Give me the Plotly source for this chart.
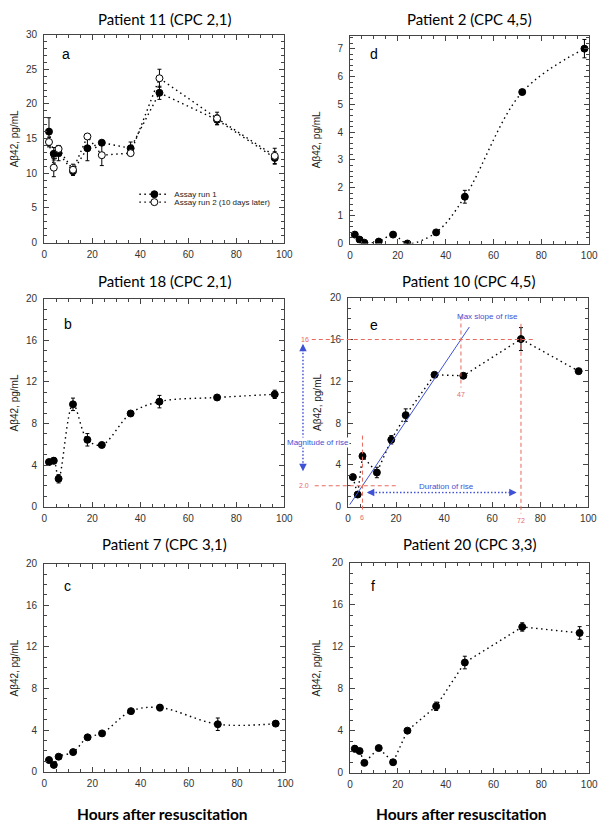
import plotly.graph_objects as go

W, H = 609, 829

# ---------------- data ----------------
hours = [2, 4, 6, 12, 18, 24, 36, 48, 72, 96]
hours_d = [2, 4, 6, 12, 18, 24, 36, 48, 72, 98]

# Panel a - Patient 11
a_run1 = [16.0, 12.8, 12.9, 10.3, 13.6, 14.4, 13.6, 21.6, 17.7, 12.2]
a_run1_err = [2.0, 0.9, 1.1, 0.6, 1.8, 0.2, 0.9, 0.95, 0.7, 0.9]
a_run2 = [14.5, 10.8, 13.5, 10.5, 15.3, 12.6, 12.9, 23.7, 17.9, 12.5]
a_run2_err = [0.7, 1.3, 0.5, 0.8, 0.2, 1.5, 0.3, 1.3, 0.9, 1.1]

# Panel d - Patient 2
d_vals = [0.32, 0.14, 0.03, 0.07, 0.32, 0.0, 0.40, 1.68, 5.44, 7.0]
d_err = [0.02, 0.02, 0.02, 0.02, 0.02, 0.02, 0.03, 0.23, 0.03, 0.33]

# Panel b - Patient 18
b_vals = [4.29, 4.42, 2.68, 9.84, 6.43, 5.93, 8.96, 10.1, 10.5, 10.8]
b_err = [0.1, 0.3, 0.4, 0.6, 0.6, 0.15, 0.2, 0.6, 0.1, 0.4]

# Panel e - Patient 10
e_vals = [2.83, 1.16, 4.84, 3.27, 6.4, 8.76, 12.62, 12.53, 16.04, 12.97]
e_err = [0.1, 0.1, 0.3, 0.5, 0.4, 0.6, 0.2, 0.1, 1.1, 0.1]
e_fit_x = [0.7, 50.5]
e_fit_pts = [(6, 2.0), (47, 16.0)]

# Panel c - Patient 7
c_vals = [1.13, 0.66, 1.45, 1.89, 3.31, 3.69, 5.83, 6.17, 4.57, 4.63]
c_err = [0.1, 0.1, 0.1, 0.1, 0.15, 0.1, 0.1, 0.3, 0.6, 0.1]

# Panel f - Patient 20
f_vals = [2.29, 2.07, 0.94, 2.35, 1.0, 4.01, 6.33, 10.5, 13.89, 13.32]
f_err = [0.3, 0.1, 0.1, 0.15, 0.1, 0.1, 0.4, 0.6, 0.4, 0.6]

titles = ["Patient 11 (CPC 2,1)", "Patient 2 (CPC 4,5)", "Patient 18 (CPC 2,1)",
          "Patient 10 (CPC 4,5)", "Patient 7 (CPC 3,1)", "Patient 20 (CPC 3,3)"]
letters = ["a", "d", "b", "e", "c", "f"]
letter_pos = [(9, 27.2), (10, 6.82), (9.8, 17.6), (10.6, 17.4), (9.5, 17.9), (9.8, 17.8)]
y_ranges = [[0, 30], [0, 7.47], [0, 20], [0, 20], [0, 20], [0, 20]]
y_dticks = [5, 1, 4, 4, 4, 4]
y_minor = [1, 0.2, 1, 1, 1, 1]

# pixel boxes of each plot area (left, right, top, bottom) and title centre heights
boxes = [(42, 287, 29, 240), (354, 598, 30, 241),
         (42, 287, 297, 508), (352, 597, 296, 508),
         (42, 288, 566, 777), (354, 598, 565, 778)]
title_y = [13, 13, 279, 279, 546, 546]


def xdom(b):
    return [b[0] / W, b[1] / W]


def ydom(b):
    return [(H - b[3]) / H, (H - b[2]) / H]


DOT = "1.5px,3.5px"
fig = go.Figure()


def add_series(i, x, y, err, shape, name=None, open_marker=False, showlegend=False, legend="legend"):
    xa = "x" if i == 0 else f"x{i+1}"
    ya = "y" if i == 0 else f"y{i+1}"
    fig.add_trace(go.Scatter(
        x=x, y=y, xaxis=xa, yaxis=ya, mode="lines+markers",
        name=name, showlegend=showlegend, legend=legend,
        line=dict(color="black", width=1.4, dash=DOT, shape=shape),
        marker=dict(size=7, color="white" if open_marker else "black",
                    line=dict(color="black", width=1)),
        error_y=dict(type="data", array=err, color="black", thickness=1, width=2),
    ))


add_series(0, hours, a_run1, a_run1_err, "linear", "Assay run 1", False, True, "legend")
add_series(0, hours, a_run2, a_run2_err, "linear", "Assay run 2 (10 days later)", True, True, "legend2")
add_series(1, hours_d, d_vals, d_err, "spline")
add_series(2, hours, b_vals, b_err, "spline")
add_series(3, hours, e_vals, e_err, "linear")
add_series(4, hours, c_vals, c_err, "spline")
add_series(5, hours, f_vals, f_err, "linear")

# regression line (max slope of rise) in panel e
(px0, py0), (px1, py1) = e_fit_pts
slope = (py1 - py0) / (px1 - px0)
e_fit_y = [py0 + (xv - px0) * slope for xv in e_fit_x]
BLUE = "#3f51d4"
RED = "#e8695e"
fig.add_trace(go.Scatter(x=e_fit_x, y=e_fit_y, xaxis="x4", yaxis="y4", mode="lines",
                         line=dict(color=BLUE, width=1), showlegend=False))

axis_common = dict(showline=True, linecolor="#444", linewidth=1, mirror="ticks",
                   ticks="inside", ticklen=5, tickwidth=1, tickcolor="#444",
                   showgrid=False, zeroline=False,
                   tickfont=dict(family="Liberation Sans", size=10, color="#333"))

layout = dict(width=W, height=H, margin=dict(l=0, r=0, t=0, b=0),
              paper_bgcolor="white", plot_bgcolor="white",
              font=dict(family="Liberation Sans", color="black"))
annotations = []
for i, b in enumerate(boxes):
    sx = "" if i == 0 else str(i + 1)
    layout[f"xaxis{sx}"] = dict(axis_common, domain=xdom(b), range=[0, 100], dtick=20,
                                anchor=f"y{sx}", ticklabelstandoff=2,
                                minor=dict(ticks="inside", ticklen=3, dtick=5, tickcolor="#444"))
    layout[f"yaxis{sx}"] = dict(axis_common, domain=ydom(b), range=y_ranges[i],
                                dtick=y_dticks[i], anchor=f"x{sx}", ticklabelstandoff=4,
                                minor=dict(ticks="inside", ticklen=3, dtick=y_minor[i], tickcolor="#444"))
    # panel title
    annotations.append(dict(text=titles[i], xref="paper", yref="paper",
                            x=(b[0] + b[1]) / 2 / W, y=(H - title_y[i]) / H,
                            showarrow=False, xanchor="center", yanchor="middle",
                            font=dict(family="Lato", size=15, color="black")))
    # panel letter
    lx, ly = letter_pos[i]
    annotations.append(dict(text=letters[i], xref=f"x{sx}", yref=f"y{sx}", x=lx, y=ly,
                            showarrow=False, xanchor="center",
                            font=dict(family="Liberation Sans", size=14)))
    # y axis title
    ytx = 12 if b[0] < 100 else 320
    annotations.append(dict(text="Aβ42, pg/mL", xref="paper", yref="paper",
                            x=ytx / W, y=(H - (b[2] + b[3]) / 2) / H, textangle=-90,
                            showarrow=False, xanchor="center", yanchor="middle",
                            font=dict(family="Liberation Sans", size=10, color="#222")))

for cx in (163, 468):
    annotations.append(dict(text="<b>Hours after resuscitation</b>", xref="paper", yref="paper",
                            x=cx / W, y=(H - 820) / H, showarrow=False,
                            xanchor="center", yanchor="middle",
                            font=dict(family="Lato", size=15.5, color="black")))

# ---------- panel e annotations ----------
eb = boxes[3]


def ex(v):
    return (eb[0] + (v - 0) / 100 * (eb[1] - eb[0])) / W


def ey(v):
    return (H - (eb[3] - v / 20 * (eb[3] - eb[2]))) / H


shapes = []
dash_red = dict(color=RED, width=1, dash="4px,3px")
shapes.append(dict(type="line", xref="paper", yref="y4", x0=315 / W, x1=ex(78), y0=16, y1=16, line=dash_red))
shapes.append(dict(type="line", xref="paper", yref="y4", x0=318 / W, x1=ex(20), y0=2, y1=2, line=dash_red))
shapes.append(dict(type="line", xref="x4", yref="paper", x0=6, x1=6, y0=ey(6.8), y1=(H - 514) / H, line=dash_red))
shapes.append(dict(type="line", xref="x4", yref="y4", x0=47, x1=47, y0=18.2, y1=11.4, line=dash_red))
shapes.append(dict(type="line", xref="x4", yref="paper", x0=72, x1=72, y0=ey(17.5), y1=(H - 515) / H, line=dash_red))

red_font = dict(family="Liberation Sans", size=7, color=RED)
annotations += [
    dict(text="16", xref="paper", yref="y4", x=308 / W, y=16, showarrow=False, xanchor="center", font=red_font),
    dict(text="2.0", xref="paper", yref="y4", x=307 / W, y=2, showarrow=False, xanchor="center", font=red_font),
    dict(text="6", xref="x4", yref="paper", x=6, y=(H - 519) / H, showarrow=False, xanchor="center", font=red_font),
    dict(text="72", xref="x4", yref="paper", x=72, y=(H - 522) / H, showarrow=False, xanchor="center", font=red_font),
    dict(text="47", xref="x4", yref="y4", x=47, y=10.7, showarrow=False, xanchor="center", font=red_font),
]

dot_blue = dict(color=BLUE, width=1.5, dash="1.5px,2px")
shapes.append(dict(type="line", xref="paper", yref="y4", x0=306 / W, x1=306 / W, y0=15.4, y1=3.6, line=dot_blue))
shapes.append(dict(type="line", xref="x4", yref="y4", x0=8.5, x1=69.5, y0=1.35, y1=1.35, line=dot_blue))

arrow_common = dict(text="", showarrow=True, arrowhead=2, arrowsize=1, arrowwidth=1.5,
                    arrowcolor=BLUE, axref="pixel", ayref="pixel")
annotations += [
    dict(arrow_common, xref="paper", yref="y4", x=306 / W, y=15.6, ax=0, ay=9),
    dict(arrow_common, xref="paper", yref="y4", x=306 / W, y=3.4, ax=0, ay=-9),
    dict(arrow_common, xref="x4", yref="y4", x=7.8, y=1.35, ax=9, ay=0),
    dict(arrow_common, xref="x4", yref="y4", x=70.2, y=1.35, ax=-9, ay=0),
]
blue_font = dict(family="Liberation Sans", size=8, color=BLUE)
annotations += [
    dict(text="Magnitude of rise", xref="paper", yref="y4", x=321.5 / W, y=6.15, xanchor="center",
         showarrow=False, bgcolor="white", borderpad=0, font=blue_font),
    dict(text="Duration of rise", xref="x4", yref="y4", x=41, y=1.9, xanchor="center",
         showarrow=False, bgcolor="white", borderpad=0, font=blue_font),
    dict(text="Max slope of rise", xref="x4", yref="y4", x=58, y=18.2, xanchor="center",
         showarrow=False, font=blue_font),
]

layout["annotations"] = annotations
layout["shapes"] = shapes
leg_common = dict(xanchor="left", yanchor="middle", bgcolor="rgba(0,0,0,0)",
                  font=dict(family="Liberation Sans", size=8, color="#222"),
                  tracegroupgap=0, itemwidth=30)
layout["legend"] = dict(leg_common, x=134 / W, y=(H - 191) / H)
layout["legend2"] = dict(leg_common, x=134 / W, y=(H - 199) / H)
fig.update_layout(**layout)
fig.write_html("out.html", config={"displayModeBar": False},
               post_script="document.body.style.margin='0';document.body.style.overflow='hidden';")
